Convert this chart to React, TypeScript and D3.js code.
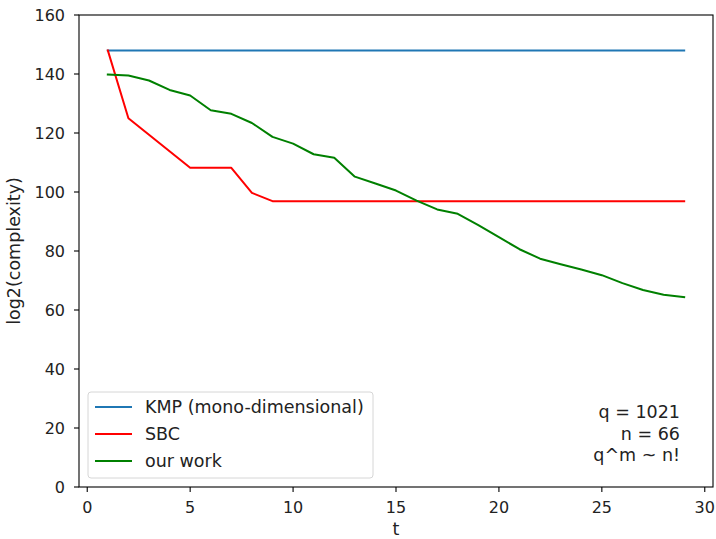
import * as d3 from 'd3';

// Data
const tValues = [1, 2, 3, 4, 5, 6, 7, 8, 9, 10, 11, 12, 13, 14, 15, 16, 17, 18, 19, 20, 21, 22, 23, 24, 25, 26, 27, 28, 29];
const kmpValues = [148, 148, 148, 148, 148, 148, 148, 148, 148, 148, 148, 148, 148, 148, 148, 148, 148, 148, 148, 148, 148, 148, 148, 148, 148, 148, 148, 148, 148];
const sbcValues = [148, 125, 119.4, 113.8, 108.2, 108.2, 108.2, 99.7, 96.9, 96.9, 96.9, 96.9, 96.9, 96.9, 96.9, 96.9, 96.9, 96.9, 96.9, 96.9, 96.9, 96.9, 96.9, 96.9, 96.9, 96.9, 96.9, 96.9, 96.9];
const ourWorkValues = [139.8, 139.5, 137.8, 134.6, 132.7, 127.7, 126.5, 123.4, 118.7, 116.4, 112.8, 111.6, 105.2, 102.9, 100.5, 97.1, 94.1, 92.6, 88.8, 84.7, 80.6, 77.4, 75.5, 73.7, 71.8, 69.1, 66.8, 65.2, 64.4];
const xTicks = [0, 5, 10, 15, 20, 25, 30];
const yTicks = [0, 20, 40, 60, 80, 100, 120, 140, 160];
const seriesNames = ['KMP (mono-dimensional)', 'SBC', 'our work'];
const seriesColors = ['#1f77b4', '#ff0000', '#008000'];
const noteLines = ['q = 1021', 'n = 66', 'q^m ~ n!'];

const width = 716;
const height = 539;
const margin = { top: 15, right: 3, bottom: 52, left: 79 };
const font = 'DejaVu Sans, sans-serif';
const tickSize = 16;
const labelSize = 17.5;

export default function App() {
  const innerRight = width - margin.right;
  const innerBottom = height - margin.bottom;

  const x = d3.scaleLinear().domain([-0.4, 30.4]).range([margin.left, innerRight]);
  const y = d3.scaleLinear().domain([0, 160]).range([innerBottom, margin.top]);

  const line = d3
    .line<number>()
    .x((_, i) => x(tValues[i]))
    .y((d) => y(d));

  const series = [kmpValues, sbcValues, ourWorkValues];

  // legend box
  const lgX = 88;
  const lgY = 392;
  const lgW = 285;
  const lgH = 86;

  return (
    <svg
      width={width}
      height={height}
      style={{ position: 'absolute', left: 0, top: 0, background: '#fff' }}
      fontFamily={font}
    >
      {/* Series */}
      {series.map((vals, i) => (
        <path
          key={seriesNames[i]}
          d={line(vals) || ''}
          fill="none"
          stroke={seriesColors[i]}
          strokeWidth={2}
          strokeLinejoin="round"
          strokeLinecap="square"
        />
      ))}

      {/* Frame */}
      <rect
        x={margin.left}
        y={margin.top}
        width={innerRight - margin.left}
        height={innerBottom - margin.top}
        fill="none"
        stroke="#000"
        strokeWidth={1.1}
      />

      {/* X ticks */}
      {xTicks.map((t) => (
        <g key={`x${t}`} transform={`translate(${x(t)},${innerBottom})`}>
          <line y2={5} stroke="#000" strokeWidth={1.1} />
          <text y={26} textAnchor="middle" fontSize={tickSize} fill="#222">
            {t}
          </text>
        </g>
      ))}

      {/* Y ticks */}
      {yTicks.map((t) => (
        <g key={`y${t}`} transform={`translate(${margin.left},${y(t)})`}>
          <line x2={-5} stroke="#000" strokeWidth={1.1} />
          <text x={-14} dy="0.36em" textAnchor="end" fontSize={tickSize} fill="#222">
            {t}
          </text>
        </g>
      ))}

      {/* Axis labels */}
      <text x={(margin.left + innerRight) / 2} y={535} textAnchor="middle" fontSize={labelSize} fill="#222">
        t
      </text>
      <text
        transform={`translate(20,${(margin.top + innerBottom) / 2}) rotate(-90)`}
        textAnchor="middle"
        fontSize={labelSize}
        fill="#222"
      >
        log2(complexity)
      </text>

      {/* Legend */}
      <rect x={lgX} y={lgY} width={lgW} height={lgH} rx={3} fill="#fff" fillOpacity={0.8} stroke="#d6d6d6" />
      {seriesNames.map((name, i) => {
        const cy = lgY + 15 + i * 27;
        return (
          <g key={name}>
            <line x1={95} x2={132} y1={cy} y2={cy} stroke={seriesColors[i]} strokeWidth={2} />
            <text x={145} y={cy} dy="0.36em" fontSize={labelSize} fill="#222">
              {name}
            </text>
          </g>
        );
      })}

      {/* Note */}
      {noteLines.map((s, i) => (
        <text key={s} x={680} y={411.5 + i * 21.7} dy="0.36em" textAnchor="end" fontSize={labelSize} fill="#222">
          {s}
        </text>
      ))}
    </svg>
  );
}
